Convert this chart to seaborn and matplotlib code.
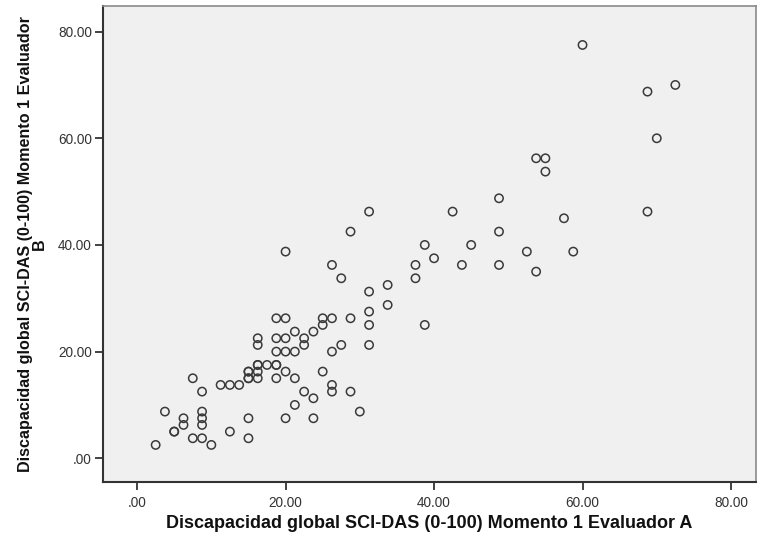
import pandas as pd
import seaborn as sns
import matplotlib.pyplot as plt

# Evaluador A (x) vs Evaluador B (y), discapacidad global SCI-DAS, momento 1
eval_a = [60, 68.75, 72.5, 70, 53.75, 55, 55, 48.75, 42.5, 57.5, 68.75, 48.75,
          38.75, 45, 52.5, 58.75, 40, 43.75, 48.75, 53.75, 38.75,
          31.25, 28.75, 20, 26.25, 27.5, 37.5, 37.5, 33.75, 31.25, 33.75,
          31.25, 31.25, 31.25, 18.75, 20, 25, 26.25, 28.75, 25, 23.75, 21.25,
          16.25, 16.25, 18.75, 20, 22.5, 22.5, 27.5, 18.75, 20, 21.25, 26.25,
          16.25, 16.25, 17.5, 18.75, 18.75, 15, 15, 16.25, 20, 25,
          15, 15, 16.25, 18.75, 21.25, 7.5, 11.25, 12.5, 13.75, 26.25, 26.25,
          8.75, 22.5, 28.75, 23.75, 21.25, 30, 3.75, 8.75, 6.25, 8.75, 15,
          20, 23.75, 6.25, 8.75, 5, 5, 12.5, 7.5, 8.75, 15, 2.5, 10]
eval_b = [77.5, 68.75, 70, 60, 56.25, 56.25, 53.75, 48.75, 46.25, 45, 46.25, 42.5,
          40, 40, 38.75, 38.75, 37.5, 36.25, 36.25, 35, 25,
          46.25, 42.5, 38.75, 36.25, 33.75, 36.25, 33.75, 32.5, 31.25, 28.75,
          27.5, 25, 21.25, 26.25, 26.25, 26.25, 26.25, 26.25, 25, 23.75, 23.75,
          22.5, 21.25, 22.5, 22.5, 22.5, 21.25, 21.25, 20, 20, 20, 20,
          17.5, 17.5, 17.5, 17.5, 17.5, 16.25, 16.25, 16.25, 16.25, 16.25,
          15, 15, 15, 15, 15, 15, 13.75, 13.75, 13.75, 13.75, 12.5,
          12.5, 12.5, 12.5, 11.25, 10, 8.75, 8.75, 8.75, 7.5, 7.5, 7.5,
          7.5, 7.5, 6.25, 6.25, 5, 5, 5, 3.75, 3.75, 3.75, 2.5, 2.5]

x_ticks = [0, 20, 40, 60, 80]
y_ticks = [0, 20, 40, 60, 80]
x_label = 'Discapacidad global SCI-DAS (0-100) Momento 1 Evaluador A'
y_label = 'Discapacidad global SCI-DAS (0-100) Momento 1 Evaluador\nB'

df = pd.DataFrame({'a': eval_a, 'b': eval_b})

sns.set_style('white')
plt.rcParams['font.family'] = ['Liberation Sans', 'DejaVu Sans']

fig = plt.figure(figsize=(7.57, 5.38), dpi=100)
ax = fig.add_axes([0.136, 0.1046, 0.863, 0.8842])
ax.set_facecolor('#F0F0F0')

sns.scatterplot(data=df, x='a', y='b', ax=ax, marker='o', s=36,
                facecolor='none', edgecolor='#3a3a3a', linewidth=1.1)

ax.set_xlim(-4.6, 83.4)
ax.set_ylim(-4.4, 84.8)
ax.set_xticks(x_ticks)
ax.set_yticks(y_ticks)
ax.set_xticklabels(['.00' if t == 0 else f'{t:.2f}' for t in x_ticks])
ax.set_yticklabels(['.00' if t == 0 else f'{t:.2f}' for t in y_ticks])
ax.tick_params(axis='both', bottom=True, left=True, direction='out',
               length=6, width=1.2, color='#222222', labelsize=9.8,
               labelcolor='#333333', pad=2)
ax.tick_params(axis='x', pad=4)

for side in ['left', 'bottom']:
    ax.spines[side].set_color('#333333')
    ax.spines[side].set_linewidth(1.5)
for side in ['top', 'right']:
    ax.spines[side].set_color('#8a8a8a')
    ax.spines[side].set_linewidth(1.2)

ax.set_xlabel(x_label, fontsize=13, fontweight='bold', color='#111111')
ax.set_ylabel(y_label, fontsize=11.6, fontweight='bold', color='#111111',
              linespacing=0.9, multialignment='center')
ax.xaxis.set_label_coords(0.5, -0.069)
ax.yaxis.set_label_coords(-0.086, 0.5)

plt.savefig('out.png', dpi=100)
